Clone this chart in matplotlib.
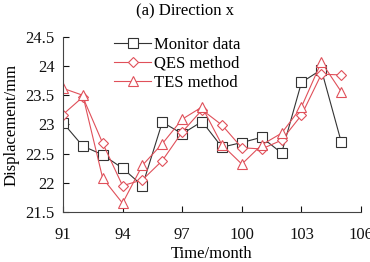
import matplotlib.pyplot as plt

months = [91, 92, 93, 94, 95, 96, 97, 98, 99, 100, 101, 102, 103, 104, 105]
monitor = [23.03, 22.63, 22.48, 22.25, 21.95, 23.04, 22.84, 23.05, 22.61, 22.69,
           22.78, 22.51, 23.72, 23.94, 22.70]
qes = [23.17, 23.47, 22.68, 21.95, 22.05, 22.38, 22.87, 23.25, 22.99, 22.60,
       22.58, 22.73, 23.16, 23.86, 23.85]
tes = [23.62, 23.50, 22.08, 21.65, 22.30, 22.67, 23.09, 23.30, 22.65, 22.32,
       22.65, 22.85, 23.30, 24.07, 23.56]

x_ticks = [91, 94, 97, 100, 103, 106]
y_ticks = [21.5, 22, 22.5, 23, 23.5, 24, 24.5]
y_labels = ["21.5", "22", "22.5", "23", "23.5", "24", "24.5"]


def main():
    plt.rcParams["font.family"] = ["Liberation Serif", "DejaVu Serif"]

    fig = plt.figure(figsize=(3.7, 2.62), dpi=100)
    ax = fig.add_axes([0.170, 0.191, 0.806, 0.668])

    black = "#333333"
    red = "#e0505a"

    ax.plot(months, monitor, color=black, lw=0.8, marker="s", ms=6.5,
            mfc="white", mec=black, mew=0.8, label="Monitor data")
    ax.plot(months, qes, color=red, lw=0.8, marker="D", ms=5.5,
            mfc="white", mec=red, mew=0.8, label="QES method")
    ax.plot(months, tes, color=red, lw=0.8, marker="^", ms=7.5,
            mfc="white", mec=red, mew=0.8, label="TES method")

    ax.set_xlim(91, 106)
    ax.set_ylim(21.5, 24.5)
    ax.set_xticks(x_ticks)
    ax.set_yticks(y_ticks)
    ax.set_yticklabels(y_labels)

    ax.tick_params(direction="in", length=4, width=0.8, labelsize=12,
                   colors="#111111", pad=6)
    ax.tick_params(axis="x", pad=11)

    ax.spines["top"].set_visible(False)
    ax.spines["right"].set_visible(False)
    ax.spines["left"].set_color("#444444")
    ax.spines["bottom"].set_color("#444444")

    ax.set_xlabel("Time/month", fontsize=12, labelpad=2)
    ax.set_ylabel("Displacement/mm", fontsize=12, labelpad=4)
    fig.text(0.5, 0.958, "(a) Direction x", ha="center", va="center",
             fontsize=12)

    ax.legend(loc="upper left", bbox_to_anchor=(0.15, 1.04), frameon=False,
              fontsize=12, handlelength=2.2, handletextpad=0.2,
              labelspacing=0.2, borderaxespad=0)

    fig.savefig("out.png", dpi=100)


if __name__ == "__main__":
    main()
